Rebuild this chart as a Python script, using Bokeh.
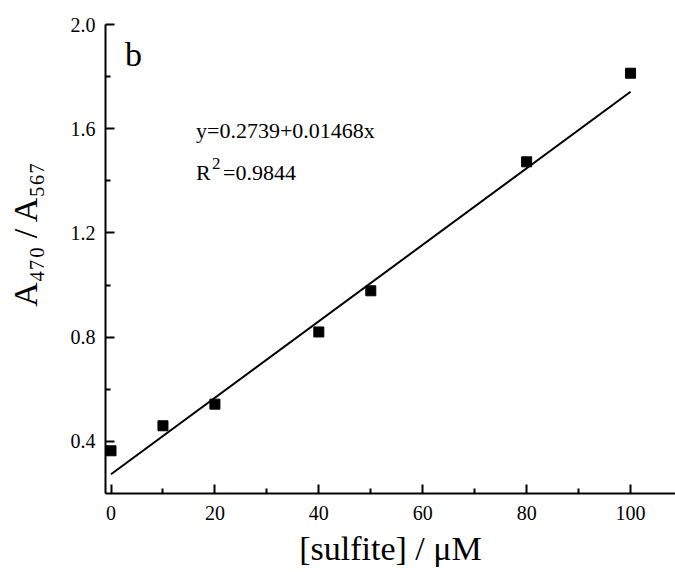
from bokeh.plotting import figure
from bokeh.models import Range1d, FixedTicker, PrintfTickFormatter, Label
from bokeh.embed import file_html
from bokeh.resources import INLINE

# ---- data ----
sulfite_uM = [0, 10, 20, 40, 50, 80, 100]
ratio_A470_A567 = [0.364, 0.460, 0.543, 0.820, 0.978, 1.473, 1.813]
fit_intercept = 0.2739
fit_slope = 0.01468
fit_x = [0, 100]
x_major_ticks = [0, 20, 40, 60, 80, 100]
x_minor_ticks = [10, 30, 50, 70, 90]
y_major_ticks = [0.4, 0.8, 1.2, 1.6, 2.0]
y_minor_ticks = [0.6, 1.0, 1.4, 1.8]

FONT = "Liberation Serif"

p = figure(width=675, height=572, output_backend="svg", toolbar_location=None,
           x_range=Range1d(-1.06, 108.65), y_range=Range1d(0.2, 2.0),
           min_border_left=105, min_border_right=0, min_border_top=24,
           min_border_bottom=79)
p.outline_line_color = None
p.grid.visible = False
p.background_fill_color = "white"
p.border_fill_color = "white"

for ax in (p.xaxis[0], p.yaxis[0]):
    ax.axis_line_width = 2
    ax.axis_line_color = "black"
    ax.major_tick_line_width = 2
    ax.minor_tick_line_width = 2
    ax.major_tick_line_color = "black"
    ax.minor_tick_line_color = "black"
    ax.major_tick_in = 9
    ax.major_tick_out = 0
    ax.minor_tick_in = 5
    ax.minor_tick_out = 0
    ax.major_label_text_font = FONT
    ax.major_label_text_font_size = "20px"
    ax.major_label_text_color = "black"
    ax.axis_label_text_font = FONT
    ax.axis_label_text_font_size = "34px"
    ax.axis_label_text_font_style = "normal"
    ax.axis_label_text_color = "black"

p.xaxis.ticker = FixedTicker(ticks=x_major_ticks, minor_ticks=x_minor_ticks)
p.yaxis.ticker = FixedTicker(ticks=y_major_ticks, minor_ticks=y_minor_ticks)
p.xaxis.formatter = PrintfTickFormatter(format="%d")
p.yaxis.formatter = PrintfTickFormatter(format="%.1f")
p.yaxis.major_label_standoff = 10
p.xaxis.major_label_standoff = 12

p.xaxis.axis_label = "[sulfite] / μM"
p.xaxis.axis_label_standoff = 7
p.yaxis.axis_label = "\u00a0" * 6 + "A₄₇₀ / A₅₆₇"
p.yaxis.axis_label_standoff = 24

# data and fit
fit_y = [fit_intercept + fit_slope * xv for xv in fit_x]
p.line(fit_x, fit_y, line_color="black", line_width=2)
p.scatter(sulfite_uM, ratio_A470_A567, marker="square", size=10,
          fill_color="black", line_color="black")

# frame reference (canvas coords -> frame screen units)
FL, FB = 104.5, 493.0


def lab(text, cx, cy, size):
    p.add_layout(Label(x=cx - FL, y=FB - cy, x_units="screen", y_units="screen",
                       text=text, text_font=FONT, text_font_size=size,
                       text_color="black", text_align="left",
                       text_baseline="alphabetic"))


# panel letter
lab("b", 124, 54, "34px")
# fit equation
lab("y=0.2739+0.01468x", 195, 130, "22px")
lab("R", 195, 172, "22px")
lab("2", 211, 163, "17px")
lab("=0.9844", 222, 172, "22px")

open("out.html", "w").write(file_html(p, INLINE))
